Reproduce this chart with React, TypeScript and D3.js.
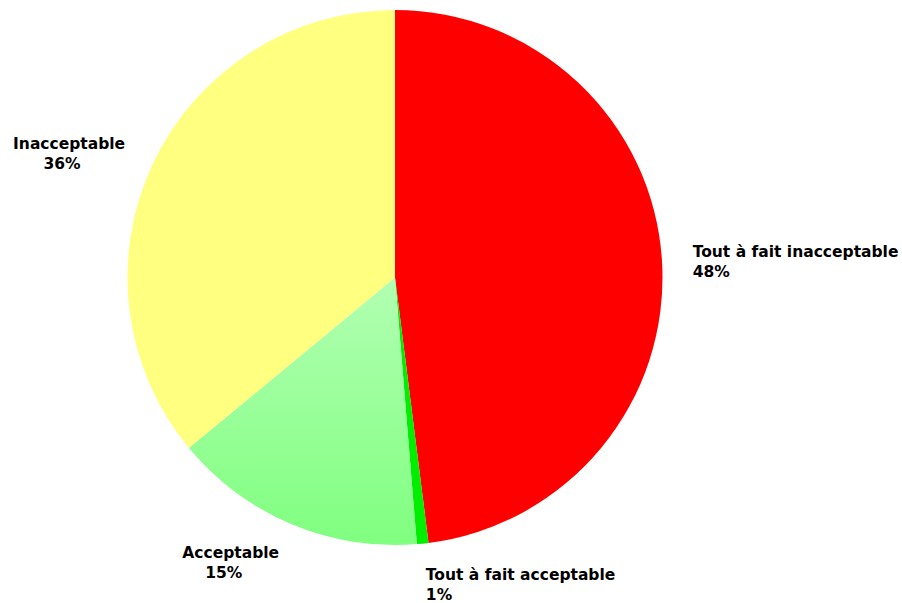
import React, { useEffect, useRef } from "react";
import * as d3 from "d3";

const categories = ["Tout à fait inacceptable", "Tout à fait acceptable", "Acceptable", "Inacceptable"];
const values = [48.0, 0.7, 15.3, 36.0];
const colors = ["#ff0000", "#00ee00", "url(#accGrad)", "#ffff80"];

const W = 902;
const H = 603;
const CX = 395;
const CY = 277.5;
const R = 267.5;

export default function App() {
  const ref = useRef<SVGSVGElement>(null);
  useEffect(() => {
    const svg = d3.select(ref.current);
    svg.selectAll("*").remove();
    const defs = svg.append("defs");
    const grad = defs.append("linearGradient").attr("id", "accGrad").attr("x1", 0).attr("y1", 0).attr("x2", 0).attr("y2", 1);
    grad.append("stop").attr("offset", "0%").attr("stop-color", "#b2ffb2");
    grad.append("stop").attr("offset", "100%").attr("stop-color", "#80ff80");

    const data = categories.map((c, i) => ({ c, v: values[i], col: colors[i] }));
    const pie = d3.pie<any>().value((d) => d.v).sort(null);
    const arcs = pie(data);
    const arc = d3.arc<any>().innerRadius(0).outerRadius(R);
    const labelArc = d3.arc<any>().innerRadius(R * 1.115).outerRadius(R * 1.115);
    const g = svg.append("g").attr("transform", `translate(${CX},${CY})`);
    g.selectAll("path.slice").data(arcs).enter().append("path")
      .attr("class", "slice")
      .attr("d", arc as any)
      .attr("fill", (d) => d.data.col);

    const fmt = (v: number) => `${Math.round(v)}%`;
    arcs.forEach((a) => {
      const [x, y] = labelArc.centroid(a);
      const right = x > 0;
      const yOff = y > R * 0.8 ? 6 : -2;
      const t = g.append("text")
        .attr("font-family", "'DejaVu Sans', Verdana, sans-serif")
        .attr("font-weight", "bold")
        .attr("font-size", 15.5)
        .attr("fill", "#000");
      const l1 = t.append("tspan").attr("x", x).attr("y", y + yOff).attr("text-anchor", right ? "start" : "end").text(a.data.c);
      const l2 = t.append("tspan").attr("y", y + yOff + 20).text(fmt(a.data.v));
      if (right) {
        l2.attr("x", x).attr("text-anchor", "start");
      } else {
        const len = (l1.node() as any).getComputedTextLength ? (l1.node() as any).getComputedTextLength() : 100;
        l2.attr("x", x - len / 2 - 7).attr("text-anchor", "middle");
      }
    });
  }, []);
  return (
    <svg ref={ref} width={W} height={H} style={{ position: "absolute", left: 0, top: 0, background: "#fff" }} />
  );
}
